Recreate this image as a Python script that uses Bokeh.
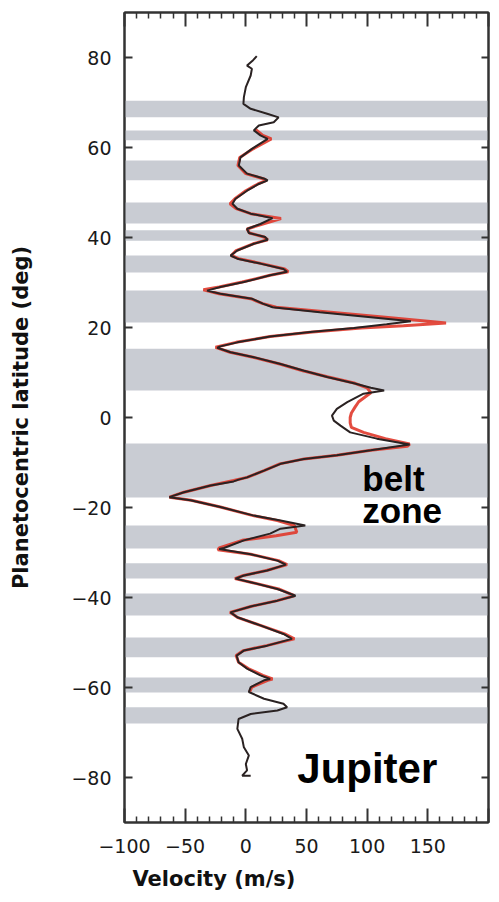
from bokeh.plotting import figure
from bokeh.models import LinearAxis, Range1d, FixedTicker, Label, Title
from bokeh.embed import file_html
from bokeh.resources import INLINE

# ---------------- data ----------------
X_RANGE = (-100, 200)
Y_RANGE = (-90, 90)
x_major = [-100, -50, 0, 50, 100, 150, 200]
x_minor = [-90, -80, -70, -60, -40, -30, -20, -10, 10, 20, 30, 40,
           60, 70, 80, 90, 110, 120, 130, 140, 160, 170, 180, 190]
y_major = [-80, -60, -40, -20, 0, 20, 40, 60, 80]
x_tick_labels = {-100: "\u2212100", -50: "\u221250", 0: "0", 50: "50",
                 100: "100", 150: "150", 200: ""}
y_tick_labels = {-80: "\u221280", -60: "\u221260", -40: "\u221240", -20: "\u221220",
                 0: "0", 20: "20", 40: "40", 60: "60", 80: "80"}

# belts (grey bands), latitude limits in degrees
belt_south = [66.7, 61.6, 52.7, 43.1, 39.3, 32.2, 21.1, 6.0,
              -17.8, -29.1, -35.8, -44.0, -53.3, -61.1, -68.0]
belt_north = [70.4, 63.8, 57.1, 47.8, 41.6, 36.0, 28.2, 15.3,
              -5.8, -24.0, -32.4, -39.1, -48.9, -57.8, -64.4]

# black profile
black_lat = [80.3, 79.4, 78.2, 77.5, 76.0, 73.4, 71.2, 69.7, 68.6, 67.5, 66.7, 65.6,
             64.9, 63.8, 62.7, 61.9, 59.7, 57.8, 56.0, 54.2, 53.0, 52.7, 51.9, 50.4,
             48.6, 47.5, 46.4, 45.3, 44.3, 43.0, 41.9, 41.0, 40.1, 39.5, 38.6, 37.1,
             36.0, 35.3, 34.2, 33.0, 32.4, 31.6, 30.1, 29.0, 28.2, 27.5, 26.4, 25.3,
             24.5, 23.4, 22.3, 21.4, 20.7, 19.9, 19.0, 18.0, 16.7, 15.8, 15.5, 14.5,
             13.4, 11.9, 10.4, 9.0, 7.6, 6.6, 6.0, 5.3, 3.4, 1.9, 0.4, -0.7,
             -1.8, -3.3, -4.7, -6.0, -7.3, -8.4, -9.2, -10.3, -11.8, -13.3, -13.8, -14.2,
             -15.1, -16.6, -17.7, -18.4, -19.9, -21.8, -22.9, -24.0, -24.7, -25.8, -27.3, -29.0,
             -29.2, -30.4, -31.8, -32.7, -34.0, -35.1, -35.8, -36.6, -38.1, -39.6, -40.7, -42.0,
             -43.3, -44.4, -46.2, -48.1, -49.2, -50.7, -51.8, -52.9, -54.4, -55.8, -57.3, -58.1,
             -58.4, -59.9, -61.0, -62.5, -63.6, -64.4, -65.1, -65.9, -67.0, -69.2, -71.4, -73.3,
             -75.1, -77.0, -78.4, -79.6, -79.6]
black_u = [9, 6, 1, 5, 4, 0, -1.6, -2, 4, 17.6, 27, 23,
           10.7, 6.6, 12, 18, 5, -4.4, -5.8, 1, 16, 18, 10.7, 1,
           -8.5, -11, -7, 4, 22, 12, 1, 2.5, 16, 18, 6.6, -7,
           -12.6, -7, 12, 31, 34, 20, -1.6, -21, -32, -21, 5, 14,
           22, 61, 103, 136, 116, 89, 53, 20, -7, -21, -23.6, -12.6,
           6.6, 28.6, 48, 67, 89, 103, 114, 97, 83.6, 75, 71, 72.5,
           78, 86, 108, 135, 103, 75, 48, 28.6, 15, 1, -6, -10,
           -29, -51, -63, -45.6, -21, 6.6, 28.6, 49, 28.6, 20, -1.6, -18,
           -22, 4, 26, 33, 17.6, -1.6, -8.5, 4, 26, 41, 26, 4,
           -12.6, -7, 12, 31, 38, 17.6, -1.6, -7.6, -6, 1, 12, 20,
           15, 4, 2.5, 15, 31, 34, 26, 4, -6, -7, -3, -1.6,
           2.5, 0, 1, -3, 4]

# red profile
red_lat = [64.0, 62.7, 61.9, 59.7, 57.8, 56.0, 54.2, 53.0, 52.7, 51.9, 50.4, 48.6,
           47.5, 46.4, 45.3, 44.2, 43.0, 41.9, 41.0, 40.1, 39.5, 38.6, 37.1, 36.0,
           35.3, 34.2, 33.0, 32.4, 31.6, 30.1, 29.0, 28.4, 27.5, 26.4, 25.3, 24.5,
           23.4, 22.3, 21.4, 21.0, 20.4, 19.9, 19.0, 18.0, 16.7, 15.6, 14.5, 13.4,
           11.9, 10.4, 9.0, 7.6, 6.6, 5.5, 4.5, 3.5, 2.3, 1.0, 0.0, -1.2,
           -2.2, -3.3, -4.7, -5.9, -6.4, -7.3, -8.4, -9.2, -10.3, -11.8, -13.3, -14.0,
           -15.1, -16.6, -17.7, -18.4, -19.9, -21.8, -22.9, -24.0, -25.5, -26.3, -27.3, -29.0,
           -29.4, -30.4, -31.8, -32.7, -34.0, -35.1, -35.8, -36.6, -38.1, -39.6, -40.7, -42.0,
           -43.3, -44.4, -46.2, -48.1, -49.2, -50.7, -51.8, -52.9, -54.4, -55.8, -57.3, -58.1,
           -58.4, -59.9, -61.0]
red_u = [8, 14, 21, 6, -5, -6.5, 0, 15, 17, 10, 0, -9,
         -13, -8, 4, 29, 14, 1, 3, 15, 18, 6, -8, -12,
         -6, 13, 32, 35, 20, -3, -22, -35, -22, 4, 14, 25,
         70, 115, 150, 165, 130, 95, 55, 20, -8, -25, -13, 6,
         28, 47, 68, 90, 100, 103, 98, 93, 90, 87, 86, 86,
         87, 97, 115, 135, 133, 103, 75, 48, 28, 15, 1, -10,
         -29, -51, -63, -45, -21, 6, 26, 40, 42, 25, -3, -22,
         -23, 4, 27, 34, 17, -2, -9, 4, 27, 40, 26, 4,
         -13, -7, 12, 32, 40, 17, -2, -8, -6, 2, 14, 22,
         18, 5, 3]

X_TITLE = "Velocity (m/s)"
Y_TITLE = "Planetocentric latitude (deg)"

# ---------------- style ----------------
BAND = "#c9ccd3"
AXIS = "#333333"
TICK_FONT = "DejaVu Sans"
LABEL_FONT = "DejaVu Sans"
TEXT_FONT = "Liberation Sans"

p = figure(frame_width=364, frame_height=810,
           x_range=Range1d(*X_RANGE), y_range=Range1d(*Y_RANGE),
           output_backend="svg", toolbar_location=None,
           min_border_left=124, min_border_right=10,
           min_border_top=12, min_border_bottom=79,
           y_axis_label=Y_TITLE)
p.grid.visible = False
p.outline_line_color = AXIS
p.outline_line_width = 2
p.background_fill_color = "white"
p.border_fill_color = "white"

p.quad(left=X_RANGE[0], right=X_RANGE[1], bottom=belt_south, top=belt_north,
       fill_color=BAND, line_color=None)
p.line(red_u, red_lat, line_color="#e0392b", line_width=3, line_alpha=0.9)
p.line(black_u, black_lat, line_color="#2a2222", line_width=2)


def style_axis(ax, major_in, minor_in):
    ax.axis_line_color = AXIS
    ax.axis_line_width = 2
    ax.major_tick_in = major_in
    ax.major_tick_out = 0
    ax.minor_tick_in = minor_in
    ax.minor_tick_out = 0
    ax.major_tick_line_color = AXIS
    ax.major_tick_line_width = 2
    ax.minor_tick_line_color = AXIS
    ax.minor_tick_line_width = 1.5


xa = p.xaxis[0]
xa.ticker = FixedTicker(ticks=x_major, minor_ticks=x_minor)
xa.major_label_overrides = x_tick_labels
style_axis(xa, 14, 6)
xa.major_label_text_font = TICK_FONT
xa.major_label_text_font_size = "19px"
xa.major_label_text_color = "#1a1a1a"
xa.major_label_standoff = 16

# x-axis title, set left of centre as in the original figure
p.add_layout(Title(text=X_TITLE, align="left", offset=8, standoff=19,
                   text_font=LABEL_FONT, text_font_style="bold",
                   text_font_size="21px", text_color="#111111"), "below")

ya = p.yaxis[0]
ya.ticker = FixedTicker(ticks=y_major, minor_ticks=[])
ya.major_label_overrides = y_tick_labels
style_axis(ya, 8, 0)
ya.major_label_text_font = TICK_FONT
ya.major_label_text_font_size = "19px"
ya.major_label_text_color = "#1a1a1a"
ya.major_label_standoff = 13
ya.axis_label_text_font = LABEL_FONT
ya.axis_label_text_font_style = "bold"
ya.axis_label_text_font_size = "21px"
ya.axis_label_text_color = "#111111"
ya.axis_label_standoff = 35

# mirror axes (ticks only) on top and right
top = LinearAxis(ticker=FixedTicker(ticks=x_major, minor_ticks=x_minor),
                 major_label_text_font_size="0px", major_label_standoff=0)
style_axis(top, 14, 6)
p.add_layout(top, "above")

right = LinearAxis(ticker=FixedTicker(ticks=y_major, minor_ticks=[]),
                   major_label_text_font_size="0px", major_label_standoff=0)
style_axis(right, 7, 0)
p.add_layout(right, "right")

# annotations
BELT_POS = (96, -13.5)
ZONE_POS = (96, -20.6)
NAME_POS = (42.4, -77.9)
for txt, (tx, ty), size in [("belt", BELT_POS, "35px"), ("zone", ZONE_POS, "35px"),
                            ("Jupiter", NAME_POS, "42px")]:
    p.add_layout(Label(x=tx, y=ty, text=txt, text_font=TEXT_FONT,
                       text_font_style="bold", text_font_size=size,
                       text_baseline="middle", text_align="left",
                       text_color="black"))

open("out.html", "w").write(file_html(p, INLINE))
